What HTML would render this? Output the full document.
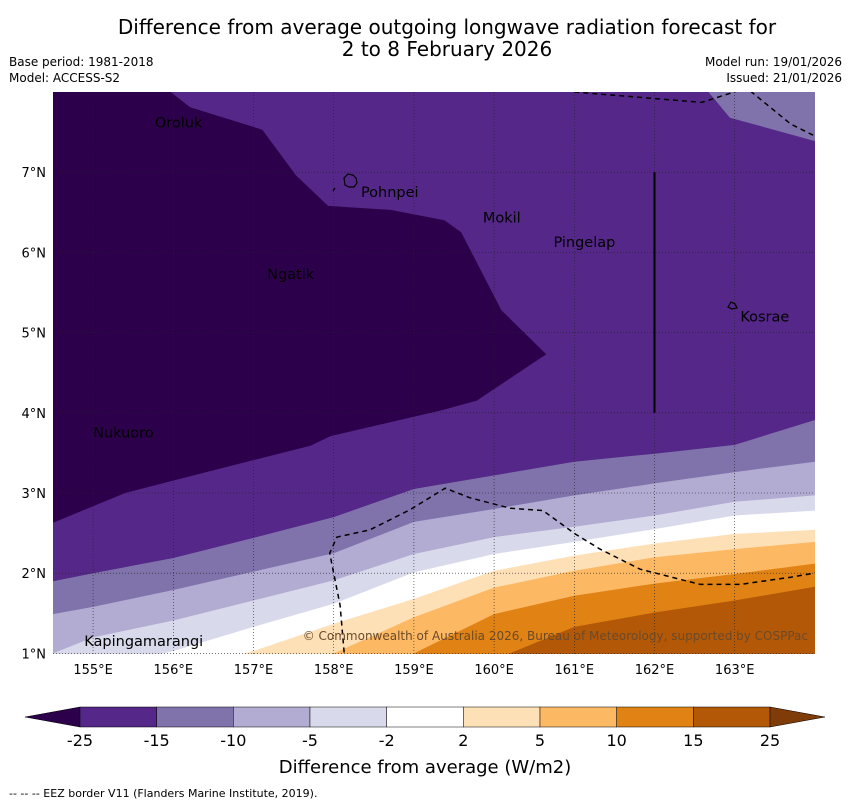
<!DOCTYPE html>
<html><head><meta charset="utf-8">
<style>
html,body{margin:0;padding:0;background:#fff;font-family:"Liberation Sans",sans-serif;width:850px;height:804px;overflow:hidden;}
svg{display:block;position:absolute;left:0;top:0}
</style></head>
<body>
<svg id="chart" width="850" height="804" xmlns="http://www.w3.org/2000/svg">
<text x="447" y="34" text-anchor="middle" font-size="20" font-family="DejaVu Sans, sans-serif">Difference from average outgoing longwave radiation forecast for</text>
<text x="447" y="56" text-anchor="middle" font-size="20" font-family="DejaVu Sans, sans-serif">2 to 8 February 2026</text>
<text x="9" y="66" font-size="12" font-family="DejaVu Sans, sans-serif">Base period: 1981-2018</text>
<text x="9" y="82" font-size="12" font-family="DejaVu Sans, sans-serif">Model: ACCESS-S2</text>
<text x="842" y="66" text-anchor="end" font-size="12" font-family="DejaVu Sans, sans-serif">Model run: 19/01/2026</text>
<text x="842" y="82" text-anchor="end" font-size="12" font-family="DejaVu Sans, sans-serif">Issued: 21/01/2026</text>
<defs><clipPath id="mapclip"><rect x="53" y="92" width="762" height="562"/></clipPath></defs>
<g id="map" clip-path="url(#mapclip)"></g>
<g id="axes"></g>
<g id="cbar"></g>
<text x="425" y="773" text-anchor="middle" font-size="18" font-family="DejaVu Sans, sans-serif">Difference from average (W/m2)</text>
<text x="9" y="797" font-size="11" font-family="DejaVu Sans, sans-serif">--  --  -- EEZ border V11 (Flanders Marine Institute, 2019).</text>
</svg>
<script>
const lons = [154.5,155,156,157,158,159,160,161,162,163,164];
const bM15 = [1.9,2.0,2.19,2.44,2.7,3.05,3.22,3.39,3.49,3.6,3.91];
const bM10 = [1.49,1.58,1.79,2.02,2.25,2.64,2.8,2.97,3.12,3.26,3.39];
const bM5 = [1.0,1.2,1.41,1.66,1.91,2.24,2.45,2.58,2.72,2.89,2.97];
const bM2 = [0.6,0.8,1.03,1.33,1.62,2.01,2.24,2.39,2.55,2.72,2.78];
const bP2 = [0.2,0.4,0.75,1.03,1.37,1.68,2.03,2.22,2.37,2.49,2.54];
const bP5 = [-0.3,0,0.3,0.7,1.0,1.45,1.82,2.03,2.2,2.3,2.39];
const bP10 = [-1,-1,-0.5,0.2,0.6,1.0,1.49,1.72,1.87,1.99,2.12];
const bP15 = [-1,-1,-1,-0.3,0.2,0.6,0.92,1.33,1.51,1.66,1.83];
const darkLon = [154.5,155.84,156.21,157.11,157.53,157.93,158.71,159.38,159.59,160.09,160.65,159.78,159.34,157.96,157.71,156.96,156.21,155.4,154.5];
const darkLat = [8.1,8.1,7.81,7.53,6.96,6.58,6.53,6.4,6.25,5.28,4.73,4.15,4.03,3.71,3.59,3.4,3.21,3.0,2.63];
const trLon = [162.59,162.94,164.1,164.1];
const trLat = [8.1,7.68,7.36,8.1];
const eezLon = [158.14,158.08,157.95,158.04,158.45,158.95,159.39,159.7,160.2,160.61,161.01,161.32,161.82,162.57,163.07,163.7,164.1];
const eezLat = [0.9,1.6,2.25,2.45,2.54,2.79,3.06,2.94,2.81,2.78,2.49,2.3,2.05,1.86,1.86,1.95,2.02];
const eezTopLon = [161.0,162.59,163.15,163.7,164.1];
const eezTopLat = [8.0,7.87,8.05,7.6,7.4];
const places = ["Oroluk","Pohnpei","Mokil","Pingelap","Ngatik","Kosrae","Nukuoro","Kapingamarangi"];
const placeLon = [155.77,158.34,159.86,160.74,157.17,163.07,155.0,154.89];
const placeLat = [7.56,6.69,6.37,6.07,5.67,5.14,3.69,1.09];
const cbColors = ["#2d004b","#542788","#8073ac","#b2abd2","#d8daeb","#ffffff","#fee0b6","#fdb863","#e08214","#b35806","#7f3b08"];
const cbLabels = ["-25","-15","-10","-5","-2","2","5","10","15","25"];
const xTicks = [155,156,157,158,159,160,161,162,163];
const yTicks = [1,2,3,4,5,6,7];

const NS="http://www.w3.org/2000/svg";
const X = lon => 53 + (lon-154.5)*80.2;
const Y = lat => 92 + (8-lat)*80.2;
function mk(tag, attrs, parent){const e=document.createElementNS(NS,tag);for(const k in attrs)e.setAttribute(k,attrs[k]);parent.appendChild(e);return e;}
const map=document.getElementById('map');
const bg = mk('rect',{x:53,y:92,width:762,height:562,fill:'#542788'},map);


function poly(lo,la){return lo.map((v,i)=>X(v).toFixed(1)+','+Y(la[i]).toFixed(1)).join(' ');}
const dk = mk('polygon',{points:poly(darkLon,darkLat),fill:'#2d004b'},map);


const tr = mk('polygon',{points:poly(trLon,trLat),fill:'#8073ac'},map);


const bounds=[bM15,bM10,bM5,bM2,bP2,bP5,bP10,bP15];
const bandNames=['band-minus15-to-minus10','band-minus10-to-minus5','band-minus5-to-minus2','band-neutral','band-2-to-5','band-5-to-10','band-10-to-15','band-15-to-25'];
bounds.forEach((b,i)=>{
  let pts=lons.map((lo,j)=>X(lo).toFixed(1)+','+Y(b[j]).toFixed(1));
  pts.push(X(164.2)+','+Y(b[b.length-1]));
  pts.push(X(164.2)+','+Y(-2));pts.push(X(154.4)+','+Y(-2));pts.push(X(154.4)+','+Y(b[0]));
  const p=mk('polygon',{points:pts.join(' '),fill:cbColors[i+2]},map);
  
  
});
xTicks.forEach(t=>{const l=mk('line',{x1:X(t),x2:X(t),y1:92,y2:654,stroke:'#222','stroke-width':0.6,'stroke-dasharray':'1,2'},map);

});
yTicks.forEach(t=>{const l=mk('line',{x1:53,x2:815,y1:Y(t),y2:Y(t),stroke:'#222','stroke-width':0.6,'stroke-dasharray':'1,2'},map);

});
const e1=mk('polyline',{points:poly(eezLon,eezLat),fill:'none',stroke:'#000','stroke-width':1.5,'stroke-dasharray':'5,4'},map);


const e2=mk('polyline',{points:poly(eezTopLon,eezTopLat),fill:'none',stroke:'#000','stroke-width':1.5,'stroke-dasharray':'5,4'},map);


const vl=mk('line',{x1:X(162),x2:X(162),y1:Y(7),y2:Y(4),stroke:'#000','stroke-width':2},map);


const ip=mk('path',{d:'M344,178 l4,-4 5,1 3,3 1,5 -3,4 -5,0 -4,-2 z M333,191 l2,-3 M728,307 l3,-5 4,2 2,4 -5,1 z',fill:'none',stroke:'#000','stroke-width':1.2},map);


places.forEach((n,i)=>{const t=mk('text',{x:X(placeLon[i]),y:Y(placeLat[i]),'font-size':14.5,'font-family':'DejaVu Sans, sans-serif',fill:'#000'},map);t.textContent=n;

});
const cp=mk('text',{x:808,y:640,'text-anchor':'end','font-size':12,fill:'#6a4a2a','font-family':'DejaVu Sans, sans-serif'},map);
cp.textContent='© Commonwealth of Australia 2026, Bureau of Meteorology, supported by COSPPac';


const ax=document.getElementById('axes');
xTicks.forEach(t=>{const tx=mk('text',{x:X(t),y:674,'text-anchor':'middle','font-size':13,'font-family':'DejaVu Sans, sans-serif'},ax);tx.textContent=t+'°E';

});
yTicks.forEach(t=>{const tx=mk('text',{x:46,y:Y(t)+5,'text-anchor':'end','font-size':13,'font-family':'DejaVu Sans, sans-serif'},ax);tx.textContent=t+'°N';

});
const cb=document.getElementById('cbar');
const c0=80,cw=(770-80)/9,cy=707,ch=20;
const lt=mk('polygon',{points:`25,717 ${c0},${cy} ${c0},${cy+ch}`,fill:cbColors[0],stroke:'#000','stroke-width':0.5},cb);


for(let i=0;i<9;i++){const r=mk('rect',{x:c0+i*cw,y:cy,width:cw,height:ch,fill:cbColors[i+1],stroke:'#000','stroke-width':0.5},cb);

}
const rt=mk('polygon',{points:`825,717 770,${cy} 770,${cy+ch}`,fill:cbColors[10],stroke:'#000','stroke-width':0.5},cb);


cbLabels.forEach((l,i)=>{const t=mk('text',{x:c0+i*cw,y:746,'text-anchor':'middle','font-size':16,'font-family':'DejaVu Sans, sans-serif'},cb);t.textContent=l;

});
</script>
</body></html>
